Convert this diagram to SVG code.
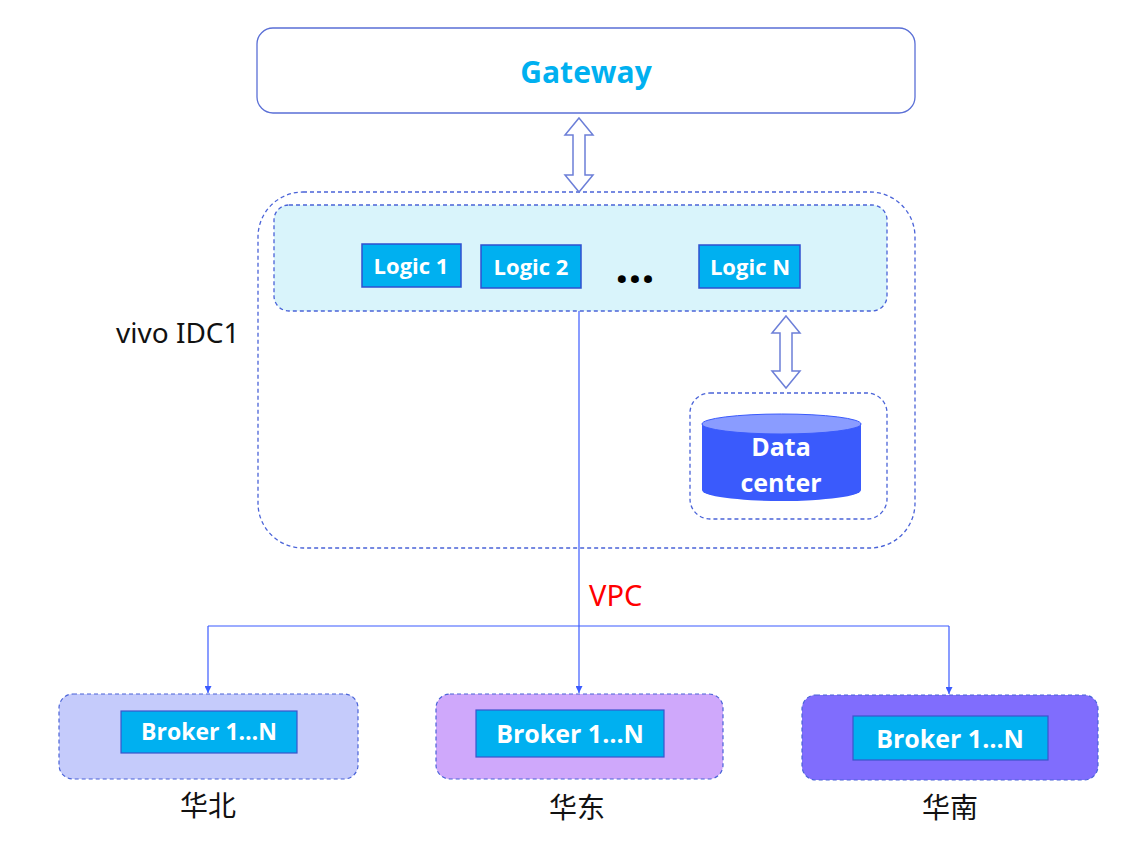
<svg xmlns="http://www.w3.org/2000/svg" width="1121" height="865" viewBox="0 0 1121 865">
<defs>
<style>
.dash{fill:none;stroke:#4a63d8;stroke-width:1.3;stroke-dasharray:4 3}
.logic{fill:#00b0f0;stroke:#2f4fd0;stroke-width:1.5}
.wt{fill:#fff;font-family:"Open Sans","Noto Sans",sans-serif;font-weight:700;text-anchor:middle}
.dbl{fill:#fff;stroke:#6c7fd8;stroke-width:1.5}
.cn{fill:none;stroke:#3b5bff;stroke-width:1.2}
.zh{font-family:"Noto Sans CJK SC","Noto Sans",sans-serif;font-size:28px;fill:#111;text-anchor:middle}
</style>
<marker id="ah" viewBox="0 0 10 10" refX="10" refY="5" markerWidth="7" markerHeight="7" orient="auto" markerUnits="userSpaceOnUse">
<path d="M0,0 L10,5 L0,10 z" fill="#3b5bff"/>
</marker>
</defs>
<rect width="1121" height="865" fill="#fff"/>

<g id="gateway">
<rect x="257" y="28" width="658" height="85" rx="16" fill="#fff" stroke="#5a6fd6" stroke-width="1.3"/>
<text x="586" y="83" font-family="Open Sans,Noto Sans,sans-serif" font-weight="700" font-size="30" fill="#00b0f0" text-anchor="middle">Gateway</text>
</g>

<g id="idc1">
<rect x="258" y="192" width="657" height="356" rx="45" class="dash"/>
<text x="116" y="343" font-family="Noto Sans,Open Sans,sans-serif" font-size="28" fill="#111">vivo IDC1</text>
</g>

<g id="logic-group">
<rect x="274" y="205" width="613" height="106" rx="15" fill="#d9f4fb" stroke="#4a63d8" stroke-width="1.3" stroke-dasharray="4 3"/>
<g id="logic1"><rect x="362" y="244" width="99" height="43" class="logic"/><text x="411" y="274" class="wt" font-size="22">Logic 1</text></g>
<g id="logic2"><rect x="481" y="245" width="100" height="43" class="logic"/><text x="531" y="275" class="wt" font-size="22">Logic 2</text></g>
<text x="635" y="283" font-family="Open Sans,sans-serif" font-weight="700" font-size="46" fill="#000" text-anchor="middle">…</text>
<g id="logicN"><rect x="699" y="245" width="101" height="43" class="logic"/><text x="750" y="275" class="wt" font-size="22">Logic N</text></g>
</g>

<g id="datacenter">
<rect x="690" y="393" width="197" height="126" rx="20" class="dash"/>
<path d="M702,424 L702,490 A79.5,11 0 0 0 861,490 L861,424 Z" fill="#3a5afc"/>
<ellipse cx="781.5" cy="424" rx="79.5" ry="10" fill="#8a9cff" stroke="#3a5afc" stroke-width="1"/>
<text x="781" y="456" class="wt" font-size="25">Data</text>
<text x="781" y="492" class="wt" font-size="25">center</text>
</g>

<g id="north">
<rect x="59" y="694" width="299" height="85" rx="14" fill="#c5cbfb" stroke="#4a63d8" stroke-width="1.2" stroke-dasharray="4 3"/>
<rect x="121" y="711" width="176" height="42" fill="#00b0f0" stroke="#3a55cc" stroke-width="1.2"/>
<text x="209" y="740" class="wt" font-size="23">Broker 1…N</text>
<text x="208" y="816" class="zh">华北</text>
</g>
<g id="east">
<rect x="436" y="694" width="287" height="85" rx="14" fill="#cfa8fb" stroke="#4a63d8" stroke-width="1.2" stroke-dasharray="4 3"/>
<rect x="476" y="710" width="188" height="47" fill="#00b0f0" stroke="#3a55cc" stroke-width="1.2"/>
<text x="570" y="743" class="wt" font-size="25">Broker 1…N</text>
<text x="577" y="818" class="zh">华东</text>
</g>
<g id="south">
<rect x="802" y="695" width="296" height="85" rx="14" fill="#806dfd" stroke="#4a63d8" stroke-width="1.2" stroke-dasharray="4 3"/>
<rect x="853" y="716" width="195" height="44" fill="#00b0f0" stroke="#3a55cc" stroke-width="1.2"/>
<text x="950" y="748" class="wt" font-size="25">Broker 1…N</text>
<text x="950" y="818" class="zh">华南</text>
</g>

<g id="connectors">
<path class="dbl" d="M579,118 L593,135 L585,135 L585,175 L593,175 L579,192 L565,175 L573,175 L573,135 L565,135 Z"/>
<path class="dbl" d="M786,316 L800,333 L792,333 L792,371 L800,371 L786,388 L772,371 L780,371 L780,333 L772,333 Z"/>
<path class="cn" d="M579,311 L579,693" marker-end="url(#ah)"/>
<path class="cn" d="M208,626 L949,626"/>
<path class="cn" d="M208,626 L208,693" marker-end="url(#ah)"/>
<path class="cn" d="M949,626 L949,694" marker-end="url(#ah)"/>
<text x="589" y="606" font-family="Noto Sans,Open Sans,sans-serif" font-size="29" fill="#ff0000">VPC</text>
</g>
</svg>
